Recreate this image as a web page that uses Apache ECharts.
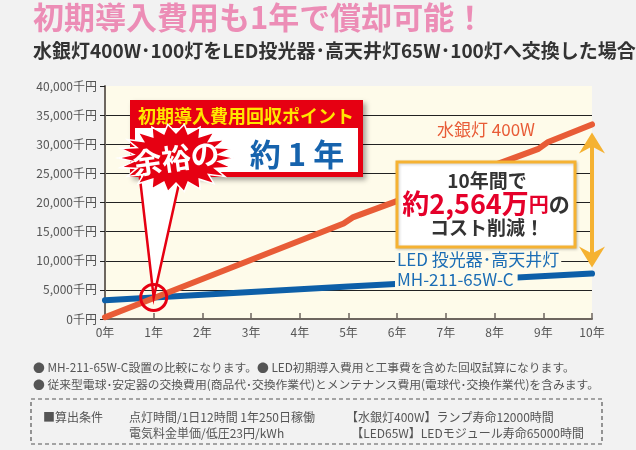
<!DOCTYPE html>
<html>
<head>
<meta charset="utf-8">
<script src="https://cdn.jsdelivr.net/npm/echarts/dist/echarts.min.js"></script>
<style>
  html, body { margin: 0; padding: 0; background: #f2f2f2; }
  #chart { width: 636px; height: 450px; }
</style>
</head>
<body>
<div id="chart"></div>
<script>
// 年（x軸）
const yearTicks = [0, 1, 2, 3, 4, 5, 6, 7, 8, 9, 10];
// 水銀灯400W 累計コスト（千円）: 5年目・9年目でランプ交換
const mercuryYears = [0, 4.9, 5.1, 8.9, 9.1, 10];
const mercuryCost = [300, 16400, 17500, 29200, 30400, 33400];
// LED投光器 MH-211-65W-C 累計コスト（千円）
const ledYears = [0, 5, 10];
const ledCost = [3200, 5600, 7800];
// y軸
const yMin = 0, yMax = 40000, yStep = 5000;
// 回収ポイント
const paybackPoint = [1, 3700];

const FONT = '"Noto Sans CJK JP", "Noto Sans", sans-serif';

function fmt(v) {
  return String(v).replace(/\B(?=(\d{3})+(?!\d))/g, ',');
}

const chart = echarts.init(document.getElementById('chart'));

const option = {
  backgroundColor: '#f2f2f2',
  animation: false,
  textStyle: { fontFamily: FONT },
  grid: {
    left: 105, right: 44, top: 86, bottom: 131,
    show: true, backgroundColor: '#fefbea', borderWidth: 0,
    outerBoundsMode: 'none'
  },
  xAxis: {
    type: 'value', min: 0, max: 10, interval: 1,
    axisLine: { lineStyle: { color: '#6d665f', width: 2 } },
    axisTick: { inside: true, length: 6, lineStyle: { color: '#6d665f', width: 1.5 } },
    axisLabel: { color: '#555', fontSize: 12, margin: 7, formatter: v => v + '年' },
    splitLine: { show: false }
  },
  yAxis: {
    type: 'value', min: yMin, max: yMax, interval: yStep,
    axisLine: { show: true, lineStyle: { color: '#6d665f', width: 2 } },
    axisTick: { show: true, length: 5, lineStyle: { color: '#222' } },
    axisLabel: { color: '#555', fontSize: 12, margin: 8, formatter: v => fmt(v) + '千円' },
    splitLine: { show: true, showMaxLine: false, lineStyle: { color: '#222', width: 1 } }
  },
  series: [
    {
      name: '水銀灯 400W', type: 'line', symbol: 'none',
      data: mercuryYears.map((x, i) => [x, mercuryCost[i]]),
      lineStyle: { color: '#e85c37', width: 6, cap: 'round', join: 'round' },
      z: 3
    },
    {
      name: 'LED', type: 'line', symbol: 'none',
      data: ledYears.map((x, i) => [x, ledCost[i]]),
      lineStyle: { color: '#0d5fa8', width: 6, cap: 'round' },
      z: 2
    }
  ]
};
chart.setOption(option);

// 注記（ピクセル位置はグリッドから計算）
const px = p => chart.convertToPixel({ gridIndex: 0 }, p);
const pb = px(paybackPoint);
const mEnd = px([mercuryYears[mercuryYears.length - 1], mercuryCost[mercuryCost.length - 1]]);
const lEnd = px([ledYears[ledYears.length - 1], ledCost[ledCost.length - 1]]);

function starPoints(cx, cy, rx, ry, n, inner) {
  const pts = [];
  for (let i = 0; i < n * 2; i++) {
    const a = i * Math.PI / n;
    const r = i % 2 ? inner : 1;
    pts.push([cx + Math.cos(a) * rx * r, cy + Math.sin(a) * ry * r]);
  }
  return pts;
}

const arrowTop = mEnd[1] + 8, arrowBot = lEnd[1] - 6, ax = mEnd[0];

const graphic = [
  // タイトル
  { type: 'text', left: 33, top: 2, z: 50,
    style: { text: '初期導入費用も1年で償却可能！', fill: '#ec8db6', font: 'bold 31px ' + FONT } },
  { type: 'text', left: 33, top: 41, z: 50,
    style: { text: '水銀灯400W･100灯をLED投光器･高天井灯65W･100灯へ交換した場合', fill: '#333', font: 'bold 19px ' + FONT } },

  // 系列ラベル
  { type: 'text', x: 437, y: 130, z: 50,
    style: { text: '水銀灯 400W', fill: '#e85c37', font: '17px ' + FONT, verticalAlign: 'middle' } },
  { type: 'text', x: 395, y: 260, z: 50,
    style: { text: 'LED 投光器･高天井灯', fill: '#1b6db5', font: '17px ' + FONT, verticalAlign: 'middle',
      backgroundColor: '#fefbea', padding: [0, 2, 0, 2] } },
  { type: 'text', x: 395, y: 280, z: 50,
    style: { text: 'MH-211-65W-C', fill: '#1b6db5', font: '17px ' + FONT, verticalAlign: 'middle',
      backgroundColor: '#fefbea', padding: [0, 4, 0, 2] } },

  // 削減額の矢印
  { type: 'line', z: 40, shape: { x1: ax, y1: arrowTop + 10, x2: ax, y2: arrowBot - 10 },
    style: { stroke: '#f5b232', lineWidth: 4 } },
  { type: 'polygon', z: 40, shape: { points: [[ax, arrowTop], [ax + 13, arrowTop + 21], [ax, arrowTop + 14], [ax - 13, arrowTop + 21]] },
    style: { fill: '#f5b232' } },
  { type: 'polygon', z: 40, shape: { points: [[ax, arrowBot], [ax + 13, arrowBot - 21], [ax, arrowBot - 14], [ax - 13, arrowBot - 21]] },
    style: { fill: '#f5b232' } },

  // 削減額ボックス
  { type: 'rect', z: 45, shape: { x: 397, y: 162, width: 178, height: 85 },
    style: { fill: '#fff', stroke: '#f5b232', lineWidth: 3, shadowBlur: 3, shadowColor: 'rgba(0,0,0,0.2)', shadowOffsetX: 1, shadowOffsetY: 1 } },
  { type: 'text', x: 487, y: 181, z: 46,
    style: { text: '10年間で', fill: '#333', font: 'bold 19px ' + FONT, align: 'center', verticalAlign: 'middle' } },
  { type: 'text', x: 486, y: 204, z: 46,
    style: { text: '{a|約2,564万}{b|円}{c|の}', align: 'center', verticalAlign: 'middle',
      rich: {
        a: { fill: '#e5002a', font: 'bold 27px ' + FONT },
        b: { fill: '#e5002a', font: 'bold 20px ' + FONT },
        c: { fill: '#333', font: 'bold 21px ' + FONT }
      } } },
  { type: 'text', x: 487, y: 228, z: 46,
    style: { text: 'コスト削減！', fill: '#333', font: 'bold 19px ' + FONT, align: 'center', verticalAlign: 'middle' } },

  // 回収ポイント吹き出し
  { type: 'rect', z: 30, shape: { x: 130, y: 100, width: 233, height: 77 },
    style: { fill: '#e60012', shadowBlur: 5, shadowColor: 'rgba(0,0,0,0.35)', shadowOffsetX: 3, shadowOffsetY: 3 } },
  { type: 'rect', z: 31, shape: { x: 135, y: 128, width: 223, height: 44 }, style: { fill: '#fff' } },
  { type: 'text', x: 246, y: 116, z: 32,
    style: { text: '初期導入費用回収ポイント', fill: '#ffe600', font: 'bold 18px ' + FONT, align: 'center', verticalAlign: 'middle' } },
  { type: 'text', x: 297, y: 154, z: 32,
    style: { text: '約 1 年', fill: '#1663ad', font: 'bold 31px ' + FONT, align: 'center', verticalAlign: 'middle' } },
  // 指し示し
  { type: 'polygon', z: 33, shape: { points: [[139, 170], [182, 170], [pb[0], pb[1]]] },
    style: { fill: '#fff', stroke: '#e60012', lineWidth: 2.5, lineJoin: 'miter' } },
  { type: 'circle', z: 34, shape: { cx: pb[0], cy: pb[1], r: 13 },
    style: { fill: 'none', stroke: '#e60012', lineWidth: 3 } },
  { type: 'polygon', z: 35, shape: { points: starPoints(176, 158, 58, 34, 22, 0.74) },
    style: { fill: '#e60012', stroke: '#fff', lineWidth: 1.5 } },
  { type: 'text', x: 176, y: 158, z: 36, rotation: 0.14, originX: 0, originY: 0,
    style: { text: '余裕の', fill: '#fff', font: 'bold 29px ' + FONT, align: 'center', verticalAlign: 'middle' } },

  // 注記
  { type: 'text', left: 33, top: 362, z: 50,
    style: { text: '● MH-211-65W-C設置の比較になります。● LED初期導入費用と工事費を含めた回収試算になります。', fill: '#555', font: '11.8px ' + FONT } },
  { type: 'text', left: 33, top: 379, z: 50,
    style: { text: '● 従来型電球･安定器の交換費用(商品代･交換作業代)とメンテナンス費用(電球代･交換作業代)を含みます。', fill: '#555', font: '11.8px ' + FONT } },
  { type: 'rect', z: 50, shape: { x: 31, y: 399, width: 571, height: 45 },
    style: { fill: 'none', stroke: '#555', lineWidth: 1.2, lineDash: [4, 3] } },
  { type: 'text', x: 43, y: 417, z: 50,
    style: { text: '■算出条件', fill: '#555', font: '12px ' + FONT, verticalAlign: 'middle' } },
  { type: 'text', x: 129, y: 417, z: 50,
    style: { text: '点灯時間/1日12時間 1年250日稼働', fill: '#555', font: '12px ' + FONT, verticalAlign: 'middle' } },
  { type: 'text', x: 346, y: 417, z: 50,
    style: { text: '【水銀灯400W】ランプ寿命12000時間', fill: '#555', font: '12px ' + FONT, verticalAlign: 'middle' } },
  { type: 'text', x: 129, y: 433, z: 50,
    style: { text: '電気料金単価/低圧23円/kWh', fill: '#555', font: '12px ' + FONT, verticalAlign: 'middle' } },
  { type: 'text', x: 584, y: 433, z: 50,
    style: { text: '【LED65W】LEDモジュール寿命65000時間', fill: '#555', font: '12px ' + FONT, align: 'right', verticalAlign: 'middle' } }
];

chart.setOption({ graphic: graphic });
</script>
</body>
</html>
